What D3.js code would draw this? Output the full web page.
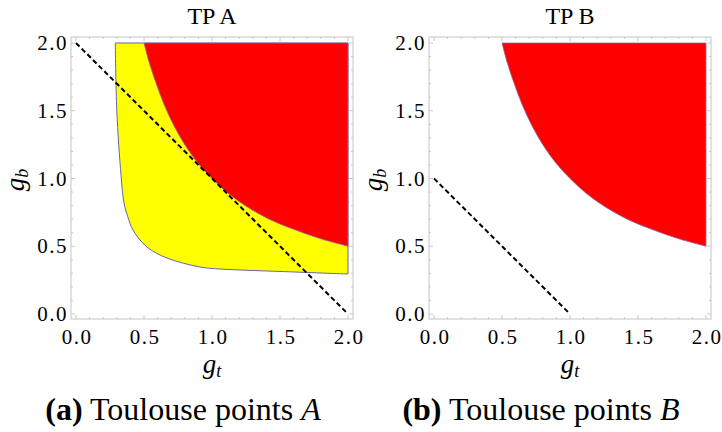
<!DOCTYPE html>
<html>
<head>
<meta charset="utf-8">
<script src="https://cdn.jsdelivr.net/npm/d3@7"></script>
<style>
  body { margin: 0; background: #fff; }
  svg { display: block; }
  text { font-family: "Liberation Serif", serif; }
  .tick { font-size: 21px; letter-spacing: 1.5px; }
</style>
</head>
<body>
<script>
// axis ticks (both panels share them)
const tickValues = [0, 0.5, 1, 1.5, 2];
const tickLabels = ["0.0", "0.5", "1.0", "1.5", "2.0"];

// yellow region boundary, TP A
const yellowGt = [0.289, 0.30, 0.331, 0.353, 0.38, 0.419, 0.522, 0.669, 0.912, 1.06, 1.5, 2.0];
const yellowGb = [2.0, 1.5, 1.026, 0.819, 0.72, 0.62, 0.494, 0.413, 0.347, 0.332, 0.314, 0.295];

// red region boundary (same in both panels)
const redGt = [0.5, 0.54, 0.59, 0.65, 0.72, 0.8, 0.9, 1.0, 1.12, 1.26, 1.42, 1.6, 1.8, 2.0];
const redGb = [2.0, 1.85, 1.7, 1.54, 1.39, 1.25, 1.11, 1.0, 0.89, 0.79, 0.7, 0.625, 0.555, 0.5];

// dashed lines
const dashA = [[0, 2], [2, 0]];
const dashB = [[0, 1], [1, 0]];

const panels = [
  { title: "TP A", tag: "(a)", letter: "A", left: 76, yellow: true, dash: dashA },
  { title: "TP B", tag: "(b)", letter: "B", left: 434, yellow: false, dash: dashB }
];

const W = 722, H = 432;
const svg = d3.select("body").append("svg").attr("width", W).attr("height", H);

const y = d3.scaleLinear().domain([0, 2]).range([314, 43]);

panels.forEach(p => {
  const x = d3.scaleLinear().domain([0, 2]).range([p.left, p.left + 272]);
  const g = svg.append("g");

  // frame
  const fx0 = x(0) - 5, fx1 = x(2) + 5, fy0 = y(2) - 6, fy1 = y(0) + 5;
  g.append("rect")
    .attr("x", fx0).attr("y", fy0)
    .attr("width", fx1 - fx0).attr("height", fy1 - fy0)
    .attr("fill", "none").attr("stroke", "#c4c4c4").attr("stroke-width", 1);

  // frame ticks
  const minor = d3.range(0, 2.01, 0.1);
  minor.forEach(v => {
    const major = Math.abs(v * 2 - Math.round(v * 2)) < 1e-6;
    const len = major ? 4 : 2;
    g.append("line").attr("x1", x(v)).attr("x2", x(v)).attr("y1", fy1).attr("y2", fy1 - len)
      .attr("stroke", "#c8c8c8");
    g.append("line").attr("x1", x(v)).attr("x2", x(v)).attr("y1", fy0).attr("y2", fy0 + len)
      .attr("stroke", "#c8c8c8");
    g.append("line").attr("y1", y(v)).attr("y2", y(v)).attr("x1", fx0).attr("x2", fx0 + len)
      .attr("stroke", "#c8c8c8");
    g.append("line").attr("y1", y(v)).attr("y2", y(v)).attr("x1", fx1).attr("x2", fx1 - len)
      .attr("stroke", "#c8c8c8");
  });

  // region: curve boundary, then up the right edge and back along the top
  const curve = d3.line().x(d => x(d[0])).y(d => y(d[1])).curve(d3.curveCatmullRom.alpha(0.5));
  const region = pts => curve(pts) + `L${x(2)},${y(2)}L${x(pts[0][0])},${y(2)}Z`;

  if (p.yellow) {
    g.append("path")
      .attr("d", region(yellowGt.map((v, i) => [v, yellowGb[i]])))
      .attr("fill", "#ffff00")
      .attr("stroke", "#6666aa").attr("stroke-width", 1);
  }

  g.append("path")
    .attr("d", region(redGt.map((v, i) => [v, redGb[i]])))
    .attr("fill", "#ff0000")
    .attr("stroke", "#8a6aa8").attr("stroke-width", 0.8);

  g.append("path")
    .datum(p.dash)
    .attr("d", d3.line().x(d => x(d[0])).y(d => y(d[1])))
    .attr("fill", "none").attr("stroke", "#000")
    .attr("stroke-width", 2).attr("stroke-dasharray", "5,3");

  // tick labels
  g.selectAll(".xt").data(tickValues).enter().append("text")
    .attr("class", "tick")
    .attr("x", d => x(d) + 1).attr("y", 344)
    .attr("text-anchor", "middle")
    .text((d, i) => tickLabels[i]);
  g.selectAll(".yt").data(tickValues).enter().append("text")
    .attr("class", "tick")
    .attr("x", fx0 - 3).attr("y", d => y(d) + 7)
    .attr("text-anchor", "end")
    .text((d, i) => tickLabels[i]);

  // title
  g.append("text").attr("x", x(1)).attr("y", 24).attr("text-anchor", "middle")
    .style("font-size", "24px")
    .text(p.title);

  // axis labels
  const xl = g.append("text").attr("x", x(1)).attr("y", 373).attr("text-anchor", "middle")
    .style("font-size", "27px").style("font-style", "italic");
  xl.append("tspan").text("g");
  xl.append("tspan").attr("dy", 4).style("font-size", "18px").text("t");

  const yl = g.append("text")
    .attr("transform", `translate(${p.left - 52},180) rotate(-90)`)
    .attr("text-anchor", "middle")
    .style("font-size", "27px").style("font-style", "italic");
  yl.append("tspan").text("g");
  yl.append("tspan").attr("dy", 4).style("font-size", "18px").text("b");

  // caption
  const cap = g.append("text").attr("x", x(1) - 29).attr("y", 420)
    .attr("text-anchor", "middle")
    .style("font-size", "32px");
  cap.append("tspan").style("font-weight", "bold").text(p.tag);
  cap.append("tspan").text(" Toulouse points ");
  cap.append("tspan").style("font-style", "italic").text(p.letter);
});
</script>
</body>
</html>
